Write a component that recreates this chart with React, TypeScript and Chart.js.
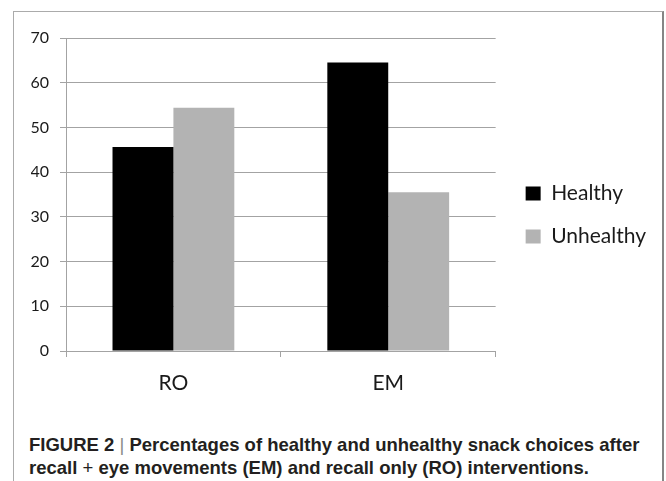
import React, { useEffect, useRef } from "react";
import { Chart, registerables } from "chart.js";

Chart.register(...registerables);

const categories: string[] = ["RO", "EM"];
const seriesNames: string[] = ["Healthy", "Unhealthy"];
const healthyValues: number[] = [45.6, 64.5];
const unhealthyValues: number[] = [54.4, 35.5];
const seriesColors: string[] = ["#000000", "#b3b3b3"];
const yMin = 0;
const yMax = 70;
const yStep = 10;

const GRID = "#a3a3a3";

export default function App() {
  const ref = useRef<HTMLCanvasElement | null>(null);

  useEffect(() => {
    if (!ref.current) return;
    const legendShift = {
      id: "legendShift",
      afterLayout(chart: any) {
        const lg = chart.legend;
        if (lg) {
          lg.left += 8;
          lg.right += 8;
          lg.top -= 2;
          lg.bottom -= 2;
        }
      },
    };
    const chart = new Chart(ref.current, {
      type: "bar",
      data: {
        labels: categories,
        datasets: [
          {
            label: seriesNames[0],
            data: healthyValues,
            backgroundColor: seriesColors[0],
            borderWidth: 0,
          },
          {
            label: seriesNames[1],
            data: unhealthyValues,
            backgroundColor: seriesColors[1],
            borderWidth: 0,
          },
        ],
      },
      options: {
        responsive: false,
        animation: false,
        devicePixelRatio: 1,
        layout: { padding: { top: 26, left: 17, right: 14, bottom: 21 } },
        datasets: {
          bar: { categoryPercentage: 0.567, barPercentage: 1 },
        },
        plugins: {
          tooltip: { enabled: false },
          legend: {
            position: "right",
            labels: {
              boxWidth: 15,
              boxHeight: 14,
              padding: 22,
              color: "#1a1a1a",
              font: { family: "Lato", size: 21 },
            },
          },
        },
        scales: {
          x: {
            afterFit: (s: any) => {
              s.height = 45;
            },
            grid: {
              display: true,
              offset: true,
              drawOnChartArea: false,
              drawTicks: true,
              tickLength: 6,
              color: GRID,
            },
            border: { display: true, color: GRID, width: 1 },
            ticks: {
              padding: 14,
              maxRotation: 0,
              color: "#1a1a1a",
              font: { family: "Lato", size: 21 },
            },
          },
          y: {
            min: yMin,
            max: yMax,
            afterFit: (s: any) => {
              s.width = 35;
            },
            grid: {
              color: GRID,
              tickLength: 6,
              drawTicks: true,
            },
            border: { display: true, color: GRID, width: 1 },
            ticks: {
              stepSize: yStep,
              padding: 11,
              color: "#1a1a1a",
              font: { family: "Lato", size: 16 },
            },
          },
        },
      },
      plugins: [legendShift],
    });
    return () => chart.destroy();
  }, []);

  return (
    <div
      style={{
        position: "absolute",
        left: 0,
        top: 0,
        width: 666,
        height: 481,
        background: "#fff",
        overflow: "hidden",
      }}
    >
      <div
        style={{
          position: "absolute",
          left: 13,
          top: 11,
          width: 648,
          height: 480,
          borderTop: "1px solid #ababab",
          borderLeft: "1px solid #ababab",
          borderRight: "2px solid #858585",
        }}
      />
      <canvas
        ref={ref}
        width={648}
        height={405}
        style={{ position: "absolute", left: 14, top: 12, width: 648, height: 405 }}
      />
      <div
        style={{
          position: "absolute",
          left: 29,
          top: 433,
          width: 630,
          fontFamily: "'Liberation Sans', Arial, sans-serif",
          fontWeight: "bold",
          fontSize: 18.5,
          lineHeight: "23px",
          color: "#231f20",
          whiteSpace: "nowrap",
        }}
      >
        <div>
          FIGURE 2{" "}
          <span style={{ fontWeight: "normal", color: "#8a8a8a" }}>|</span>{" "}
          Percentages of healthy and unhealthy snack choices after
        </div>
        <div>
          recall <span style={{ fontWeight: "normal" }}>+</span> eye movements
          (EM) and recall only (RO) interventions.
        </div>
      </div>
    </div>
  );
}
